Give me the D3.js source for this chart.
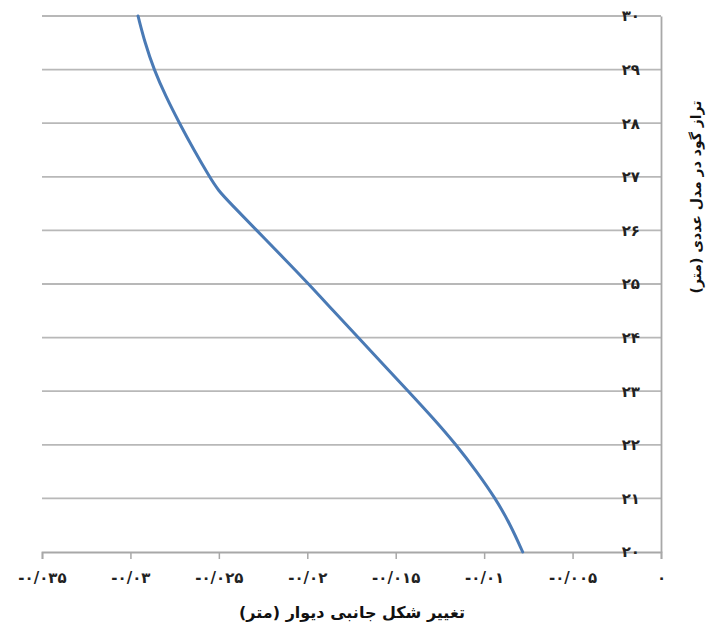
<!DOCTYPE html>
<html><head><meta charset="utf-8">
<script src="https://cdn.jsdelivr.net/npm/d3@7/dist/d3.min.js"></script>
<style>body{margin:0;background:#fff}</style>
</head><body><svg id="c" width="710" height="627"></svg>
<script>
// Excavation level (m) and lateral wall deflection (m)
const levels = [20, 20.5, 21, 21.5, 22, 22.5, 23, 23.5, 24, 24.5, 25, 25.5, 26, 26.5, 26.75, 27, 27.5, 28, 28.5, 29, 29.5, 30];
const deflection = [-0.00782, -0.00850, -0.00936, -0.01042, -0.01158, -0.01289, -0.01429, -0.01570, -0.01712, -0.01853, -0.01992, -0.02138, -0.02286, -0.02433, -0.02505, -0.02553, -0.02641, -0.02723, -0.02800, -0.02867, -0.02918, -0.02957];
const xTicks = [-0.035, -0.03, -0.025, -0.02, -0.015, -0.01, -0.005, 0];
const xTickLabels = ["-۰/۰۳۵", "-۰/۰۳", "-۰/۰۲۵", "-۰/۰۲", "-۰/۰۱۵", "-۰/۰۱", "-۰/۰۰۵", "۰"];
const yTicks = [20, 21, 22, 23, 24, 25, 26, 27, 28, 29, 30];
const yTickLabels = ["۲۰", "۲۱", "۲۲", "۲۳", "۲۴", "۲۵", "۲۶", "۲۷", "۲۸", "۲۹", "۳۰"];
const xTitle = "تغییر شکل جانبی دیوار (متر)";
const yTitle = "تراز گود در مدل عددی (متر)";

const svg = d3.select("#c");
const font = "'DejaVu Sans', 'Noto Sans', sans-serif";
const x = d3.scaleLinear().domain([-0.035, 0]).range([42, 661]);
const y = d3.scaleLinear().domain([20, 30]).range([552, 16]);

// gridlines
svg.append("g").selectAll("line").data(yTicks.slice(1)).join("line")
  .attr("x1", x(-0.035)).attr("x2", x(0))
  .attr("y1", d => y(d)).attr("y2", d => y(d))
  .attr("stroke", "#b8b8b8").attr("stroke-width", 1.8);

// x axis
const xAxis = d3.axisBottom(x).tickValues(xTicks)
  .tickFormat((d, i) => xTickLabels[i]).tickSize(7).tickPadding(13);
const gx = svg.append("g").attr("transform", `translate(0,${y(20)})`).call(xAxis);
gx.select(".domain").attr("stroke", "#a8a8a8").attr("stroke-width", 1.8);
gx.selectAll(".tick line").attr("stroke", "#a8a8a8").attr("stroke-width", 1.5);
gx.selectAll("text").attr("font-family", font).attr("font-size", 15).attr("font-weight", "bold").attr("fill", "#222");

// y axis (right side, labels inside)
const yAxis = d3.axisLeft(y).tickValues(yTicks)
  .tickFormat((d, i) => yTickLabels[i]).tickSize(0).tickPadding(21);
const gy = svg.append("g").attr("transform", `translate(${x(0)},0)`).call(yAxis);
gy.select(".domain").attr("stroke", "#a8a8a8").attr("stroke-width", 1.8);
gy.selectAll("text").attr("font-family", font).attr("font-size", 15).attr("font-weight", "bold").attr("fill", "#222");

// curve
const pts = levels.map((l, i) => [deflection[i], l]);
const line = d3.line().x(d => x(d[0])).y(d => y(d[1])).curve(d3.curveBasis);
svg.append("path").datum(pts).attr("d", line)
  .attr("fill", "none").attr("stroke", "#4a7ab5").attr("stroke-width", 3).attr("stroke-linecap", "round");

// titles
svg.append("text").attr("x", 352).attr("y", 618).attr("text-anchor", "middle")
  .attr("font-family", font).attr("font-size", 16).attr("font-weight", "bold").attr("fill", "#111")
  .attr("direction", "rtl").text(xTitle);
svg.append("text").attr("transform", "translate(701,197) rotate(-90)").attr("text-anchor", "middle")
  .attr("font-family", font).attr("font-size", 14).attr("font-weight", "bold").attr("fill", "#111")
  .attr("direction", "rtl").text(yTitle);
</script></body></html>
